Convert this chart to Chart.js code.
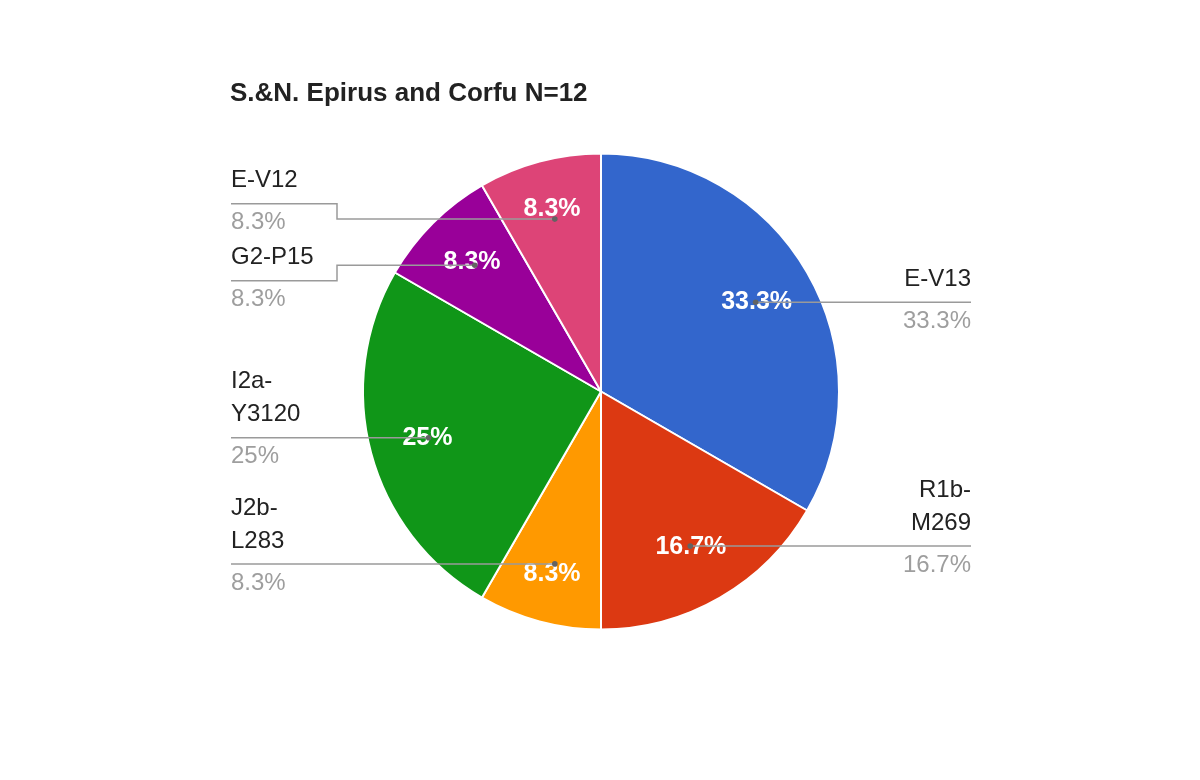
<!DOCTYPE html>
<html>
<head>
<meta charset="utf-8">
<script src="https://cdn.jsdelivr.net/npm/chart.js@4.4.0/dist/chart.umd.min.js"></script>
<style>
html, body { margin: 0; padding: 0; background: #fff; }
#wrap { width: 1200px; height: 780px; position: relative; }
</style>
</head>
<body>
<div id="wrap"><canvas id="pie"></canvas></div>
<script>
var chartTitle = "S.&N. Epirus and Corfu N=12";
var labels = ["E-V13", "R1b-M269", "J2b-L283", "I2a-Y3120", "G2-P15", "E-V12"];
var counts = [4, 2, 1, 3, 1, 1];
var colors = ['#3366cc', '#dc3912', '#ff9900', '#109618', '#990099', '#dd4477'];

var FONT = "'Liberation Sans', Arial, sans-serif";
var leftX = 231, rightX = 971, elbowLen = 106;
var lineH = 33;

function pctText(v, total) {
    var p = (v / total * 100).toFixed(1);
    if (p.slice(-2) == '.0') p = p.slice(0, -2);
    return p + '%';
}

// break a label at the hyphen when it is too wide
function wrapName(ctx, name) {
    if (ctx.measureText(name).width <= 95) return [name];
    var i = name.indexOf('-');
    if (i < 0) return [name];
    return [name.slice(0, i + 1), name.slice(i + 1)];
}

// push overlapping labels apart, keeping each group centred on the wanted spots
function spread(items) {
    items.sort(function (a, b) { return a.want - b.want; });
    var groups = [];
    items.forEach(function (it) {
        groups.push({ items: [it] });
        while (groups.length > 1) {
            var g = groups[groups.length - 1], p = groups[groups.length - 2];
            layout(p); layout(g);
            var last = p.items[p.items.length - 1], first = g.items[0];
            if (first.y - last.y >= 38.5 + first.above) break;
            p.items = p.items.concat(g.items);
            groups.pop();
        }
    });
    groups.forEach(layout);
}
function layout(g) {
    var off = [0], i;
    for (i = 1; i < g.items.length; i++) off.push(off[i - 1] + 38.5 + g.items[i].above);
    var sumW = 0, sumO = 0;
    for (i = 0; i < g.items.length; i++) { sumW += g.items[i].want; sumO += off[i]; }
    var base = (sumW - sumO) / g.items.length;
    for (i = 0; i < g.items.length; i++) g.items[i].y = base + off[i];
}

var pieLabels = {
    id: 'pieLabels',
    afterDraw: function (chart) {
        var ctx = chart.ctx;
        var arcs = chart.getDatasetMeta(0).data;
        var total = counts.reduce(function (a, b) { return a + b; }, 0);

        ctx.save();
        // title
        ctx.fillStyle = '#222';
        ctx.font = 'bold 26px ' + FONT;
        ctx.textAlign = 'left';
        ctx.textBaseline = 'alphabetic';
        ctx.fillText(chartTitle, 230, 101);

        var left = [], right = [];
        arcs.forEach(function (arc, i) {
            var a = (arc.startAngle + arc.endAngle) / 2;
            var r = arc.outerRadius;
            var frac = counts[i] / total;
            // value inside slice
            var f = 0.755;
            if (frac < 0.1) f += 0.045 * Math.pow(Math.abs(Math.sin(a)), 4);
            ctx.fillStyle = '#fff';
            ctx.font = 'bold 25px ' + FONT;
            ctx.textAlign = 'center';
            ctx.textBaseline = 'middle';
            ctx.fillText(pctText(counts[i], total), arc.x + Math.cos(a) * r * f, arc.y + Math.sin(a) * r * f);

            ctx.font = '24px ' + FONT;
            var lines = wrapName(ctx, labels[i]);
            var item = {
                i: i, lines: lines,
                dx: arc.x + Math.cos(a) * r * 0.75,
                dy: arc.y + Math.sin(a) * r * 0.75,
                above: 5.5 + lineH * lines.length
            };
            item.want = item.dy;
            if (Math.cos(a) >= 0) right.push(item); else left.push(item);
        });
        spread(left);
        spread(right);

        function drawSide(items, isLeft) {
            items.forEach(function (it) {
                var edge = isLeft ? leftX : rightX;
                var elbow = isLeft ? leftX + elbowLen : rightX - elbowLen;
                ctx.strokeStyle = '#9a9a9a';
                ctx.lineWidth = 1.5;
                ctx.beginPath();
                ctx.moveTo(edge, it.y);
                if (Math.abs(it.y - it.dy) > 1) {
                    ctx.lineTo(elbow, it.y);
                    ctx.lineTo(elbow, it.dy);
                }
                ctx.lineTo(it.dx, it.dy);
                ctx.stroke();
                ctx.fillStyle = '#636363';
                ctx.beginPath();
                ctx.arc(it.dx, it.dy, 2.8, 0, Math.PI * 2);
                ctx.fill();

                ctx.textAlign = isLeft ? 'left' : 'right';
                ctx.textBaseline = 'middle';
                ctx.font = '24px ' + FONT;
                ctx.fillStyle = '#222';
                var n = it.lines.length;
                it.lines.forEach(function (t, k) {
                    ctx.fillText(t, edge, it.y - 23 - (n - 1 - k) * lineH);
                });
                ctx.fillStyle = '#9e9e9e';
                ctx.fillText(pctText(counts[it.i], total), edge, it.y + 19);
            });
        }
        drawSide(left, true);
        drawSide(right, false);
        ctx.restore();
    }
};

new Chart(document.getElementById('pie'), {
    type: 'pie',
    data: {
        labels: labels,
        datasets: [{
            data: counts,
            backgroundColor: colors,
            borderColor: '#ffffff',
            borderWidth: 2
        }]
    },
    options: {
        responsive: true,
        maintainAspectRatio: false,
        animation: false,
        layout: { padding: { top: 152, bottom: 149, left: 362, right: 360 } },
        plugins: {
            legend: { display: false },
            tooltip: { enabled: false },
            title: { display: false }
        }
    },
    plugins: [pieLabels]
});
</script>
</body>
</html>
